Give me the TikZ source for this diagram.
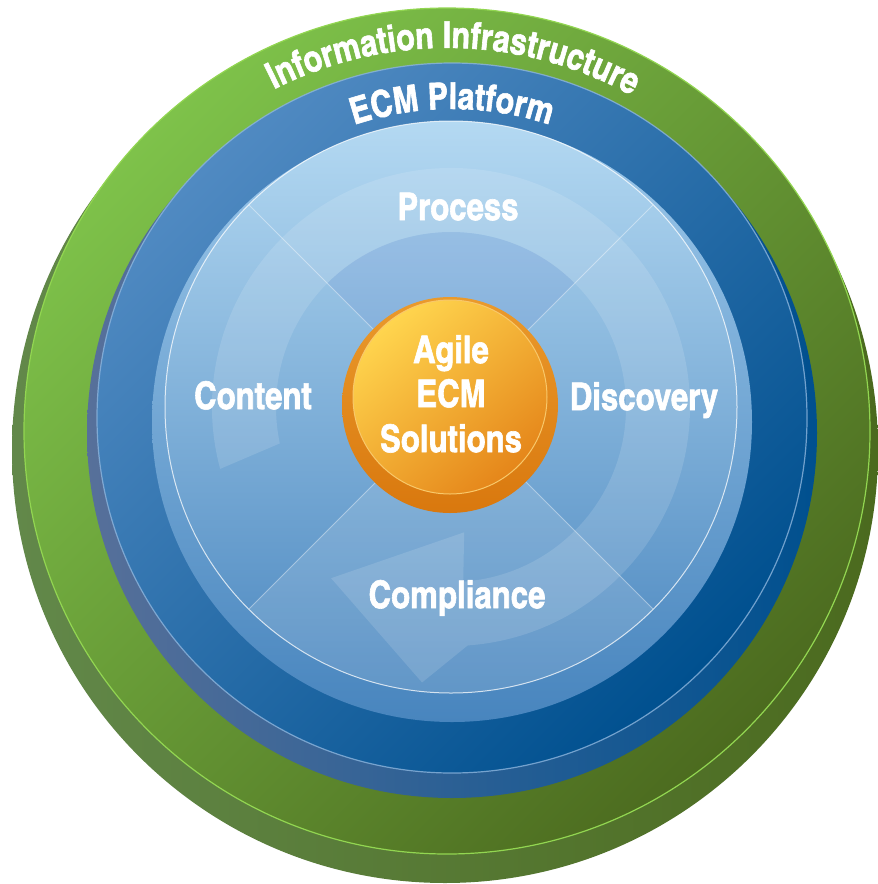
\documentclass[tikz,border=0pt]{standalone}
\usepackage{fontspec}
\usetikzlibrary{decorations.text}
\newfontfamily\cnfont[FakeBold=1.6]{texgyreheroscn-bold.otf}
\definecolor{gsideL}{HTML}{62884A}
\definecolor{gsideR}{HTML}{4B6A1E}
\definecolor{gfaceA}{HTML}{7EC24A}
\definecolor{gfaceM}{HTML}{6B8F57}
\definecolor{gfaceB}{HTML}{4C6B1F}
\definecolor{gline}{HTML}{92D651}
\definecolor{bsideL}{HTML}{57709A}
\definecolor{bsideR}{HTML}{00508F}
\definecolor{bfaceA}{HTML}{508AC2}
\definecolor{bfaceM}{HTML}{56729F}
\definecolor{bfaceB}{HTML}{00508F}
\definecolor{bline}{HTML}{8DB5DD}
\definecolor{lsideA}{HTML}{9CC8EA}
\definecolor{lsideB}{HTML}{4885BE}
\definecolor{lfaceA}{HTML}{B4D9F2}
\definecolor{lfaceB}{HTML}{4C88C0}
\definecolor{osideA}{HTML}{EA9A2C}
\definecolor{osideB}{HTML}{D9780E}
\definecolor{ofaceA}{HTML}{FFD54E}
\definecolor{ofaceM}{HTML}{E9A862}
\definecolor{ofaceB}{HTML}{E5861A}
\definecolor{oline}{HTML}{F8C86A}
\newcommand{\lblfont}{\cnfont\fontsize{38}{43}\selectfont}
\newcommand{\arcfnt}{\cnfont\fontsize{37}{40}\selectfont}
\tikzset{
  lbl/.style={font=\lblfont, text=white, anchor=base, inner sep=0pt},
  faceline/.style={line width=1.2pt},
}
\begin{document}
\begin{tikzpicture}[x=1pt,y=1pt]
\useasboundingbox (0,0) rectangle (878,-884);
% ---- green disc (Information Infrastructure)
\shade[left color=gsideL, right color=gsideR] (445,-450) circle (433);
\shade[top color=gfaceA, middle color=gfaceM, bottom color=gfaceB, shading angle=45] (447,-431) circle (423);
\draw[gline, faceline] (447,-431) circle (423);
% ---- blue disc (ECM Platform)
\shade[left color=bsideL, right color=bsideR] (452,-433) circle (365);
\shade[top color=bfaceA, middle color=bfaceM, bottom color=bfaceB, shading angle=45] (452,-418) circle (355);
\draw[bline, faceline, opacity=0.8] (452,-418) circle (355);
% ---- light blue disc
\shade[top color=lsideA, bottom color=lsideB] (452,-422) circle (300);
\shade[top color=lfaceA, bottom color=lfaceB] (451,-407) circle (286);
\begin{scope}[shift={(451,-407)}]
  % lighter bottom wedge
  \fill[white, opacity=0.12] (0,0) -- (-135:286) arc[start angle=-135, end angle=-45, radius=286] -- cycle;
  % darker inner part of top wedge
  \fill[black!40!blue, opacity=0.05] (0,0) -- (135:175) arc[start angle=135, end angle=45, radius=175] -- cycle;
  % circular arrow band
  \fill[white, opacity=0.13] (195:239) arc[start angle=195, end angle=-86, radius=239]
     -- (-96:277) -- (-125:209) -- (-84:126) -- (-86:175)
     arc[start angle=-86, end angle=192, radius=175] -- cycle;
  % wedge borders
  \foreach \a in {45,135,-45,-135}
    \draw[white, opacity=0.4, line width=0.8pt] (0,0) -- (\a:286);
  \draw[white, opacity=0.75, line width=1pt] (0,0) circle (286);
\end{scope}
% ---- orange centre
\shade[top color=osideA, bottom color=osideB] (450,-405) circle (108);
\shade[top color=ofaceA, middle color=ofaceM, bottom color=ofaceB, shading angle=40] (450,-397) circle (97);
\draw[oline, line width=1pt] (450,-397) circle (97);
% ---- arched labels
\path[decorate, decoration={text along path, text align=center,
   text={|\arcfnt\color{white}|Information Infrastructure}}]
   (447,-431) ++(159:383) arc[start angle=159, end angle=19, radius=383];
\path[decorate, decoration={text along path, text align=center,
   text={|\arcfnt\color{white}|ECM Platform}}]
   (452,-418) ++(150:309) arc[start angle=150, end angle=30, radius=309];
% ---- labels
\node[lbl] (process) at (458,-220) {Process};
\node[lbl] (content) at (253,-409) {Content};
\node[lbl] (discovery) at (644,-410) {Discovery};
\node[lbl] (compliance) at (457,-608) {Compliance};
\node[lbl] (agile) at (451,-363) {Agile};
\node[lbl] (ecm) at (451,-407) {ECM};
\node[lbl] (solutions) at (451,-452) {Solutions};
\end{tikzpicture}
\end{document}
